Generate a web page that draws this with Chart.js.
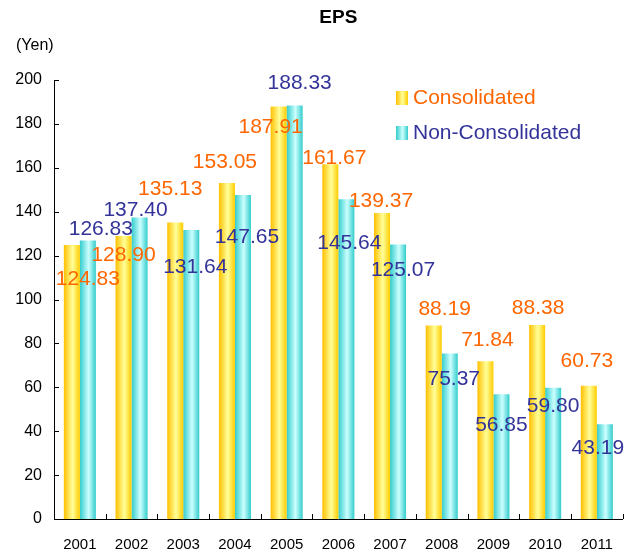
<!DOCTYPE html>
<html>
<head>
<meta charset="utf-8">
<script src="https://cdn.jsdelivr.net/npm/chart.js@4.4.1/dist/chart.umd.min.js"></script>
<style>
  html, body { margin: 0; padding: 0; background: #fff; }
  #wrap { width: 630px; height: 553px; }
</style>
</head>
<body>
<div id="wrap"><canvas id="epsChart"></canvas></div>
<script>
// Data
const years = ["2001", "2002", "2003", "2004", "2005", "2006", "2007", "2008", "2009", "2010", "2011"];
const consolidated = [124.83, 128.90, 135.13, 153.05, 187.91, 161.67, 139.37, 88.19, 71.84, 88.38, 60.73];
const nonConsolidated = [126.83, 137.40, 131.64, 147.65, 188.33, 145.64, 125.07, 75.37, 56.85, 59.80, 43.19];
const yTicks = [0, 20, 40, 60, 80, 100, 120, 140, 160, 180, 200];

// where each value label sits, relative to the top-centre of its bar
const consLabelShift = [[16, 34], [0, 19], [-5, -33], [-2, -21], [-8, 21], [4, -6], [-1, -12], [11, -16], [2, -21], [1, -17], [-2, -24]];
const nonLabelShift = [[13, -11], [-4, -7], [4, 37], [4, 42], [5, -22], [3, 44], [5, 26], [4, 26], [0, 31], [0, 18], [-7, 24]];

const ORANGE = "#FF6600";
const BLUE = "#333399";
const FONT = "'Liberation Sans', Arial, sans-serif";
const CAT_PCT = 0.62;

// horizontal gradient across each bar
function barFill(ctx, stops) {
    const chart = ctx.chart;
    if (!chart.chartArea || ctx.type !== "data") return stops[1];
    const xs = chart.scales.x;
    const catW = xs.width / years.length;
    const bw = catW * CAT_PCT / 2;
    const centre = xs.getPixelForValue(ctx.dataIndex);
    const left = ctx.datasetIndex === 0 ? centre - bw : centre;
    const g = chart.ctx.createLinearGradient(left, 0, left + bw, 0);
    g.addColorStop(0, stops[0]);
    g.addColorStop(0.55, stops[1]);
    g.addColorStop(1, stops[2]);
    return g;
}

const extras = {
    id: "extras",
    afterDraw(chart) {
        const c = chart.ctx;
        const area = chart.chartArea;
        const xs = chart.scales.x;
        const ys = chart.scales.y;
        c.save();

        // tick marks pointing into the plot
        c.strokeStyle = "#000";
        c.lineWidth = 1;
        c.beginPath();
        yTicks.forEach(v => {
            const y = Math.round(ys.getPixelForValue(v)) + 0.5;
            c.moveTo(area.left, y);
            c.lineTo(area.left + 5, y);
        });
        const catW = xs.width / years.length;
        for (let i = 1; i <= years.length; i++) {
            const x = Math.round(area.left + catW * i) + 0.5;
            c.moveTo(x, area.bottom);
            c.lineTo(x, area.bottom - 5);
        }
        c.stroke();

        // title and unit
        c.fillStyle = "#000";
        c.textAlign = "center";
        c.textBaseline = "middle";
        c.font = "bold 19px " + FONT;
        c.fillText("EPS", (area.left + area.right) / 2, 18);
        c.font = "16px " + FONT;
        c.textAlign = "left";
        c.fillText("(Yen)", 16, 46);

        // legend
        const legend = [
            { text: "Consolidated", color: ORANGE, stops: ["#FFC000", "#FFFF99", "#FFCC00"], y: 98 },
            { text: "Non-Consolidated", color: BLUE, stops: ["#33CCCC", "#CCFFFF", "#33CCCC"], y: 133 }
        ];
        c.font = "21px " + FONT;
        legend.forEach(item => {
            const g = c.createLinearGradient(396, 0, 408, 0);
            g.addColorStop(0, item.stops[0]);
            g.addColorStop(0.55, item.stops[1]);
            g.addColorStop(1, item.stops[2]);
            c.fillStyle = g;
            c.fillRect(396, item.y - 7, 12, 14);
            c.fillStyle = item.color;
            c.fillText(item.text, 413, item.y);
        });

        // value labels
        c.textAlign = "center";
        c.font = "21px " + FONT;
        const sets = [
            { data: consolidated, shift: consLabelShift, color: ORANGE },
            { data: nonConsolidated, shift: nonLabelShift, color: BLUE }
        ];
        sets.forEach((s, di) => {
            const meta = chart.getDatasetMeta(di);
            meta.data.forEach((bar, i) => {
                c.fillStyle = s.color;
                c.fillText(s.data[i].toFixed(2), bar.x + s.shift[i][0], bar.y + s.shift[i][1]);
            });
        });
        c.restore();
    }
};

new Chart(document.getElementById("epsChart"), {
    type: "bar",
    data: {
        labels: years,
        datasets: [
            {
                label: "Consolidated",
                data: consolidated,
                backgroundColor: ctx => barFill(ctx, ["#FFC000", "#FFFF99", "#FFCC00"]),
                borderWidth: 0,
                categoryPercentage: CAT_PCT,
                barPercentage: 1
            },
            {
                label: "Non-Consolidated",
                data: nonConsolidated,
                backgroundColor: ctx => barFill(ctx, ["#33CCCC", "#CCFFFF", "#33CCCC"]),
                borderWidth: 0,
                categoryPercentage: CAT_PCT,
                barPercentage: 1
            }
        ]
    },
    options: {
        responsive: true,
        maintainAspectRatio: false,
        animation: false,
        layout: { padding: { top: 80, right: 1, left: 0, bottom: 0 } },
        plugins: {
            legend: { display: false },
            title: { display: false },
            tooltip: { enabled: false }
        },
        scales: {
            x: {
                grid: { display: false, drawTicks: false },
                border: { display: true, color: "#000", width: 1 },
                ticks: { color: "#000", font: { family: FONT, size: 15 }, padding: 17, maxRotation: 0 },
                afterFit(scale) { scale.height = 34; }
            },
            y: {
                min: 0,
                max: 200,
                grid: { display: false, drawTicks: false },
                border: { display: true, color: "#000", width: 1 },
                ticks: { stepSize: 20, color: "#000", font: { family: FONT, size: 16 }, padding: 12 },
                afterFit(scale) { scale.width = 54; }
            }
        }
    },
    plugins: [extras]
});
</script>
</body>
</html>
